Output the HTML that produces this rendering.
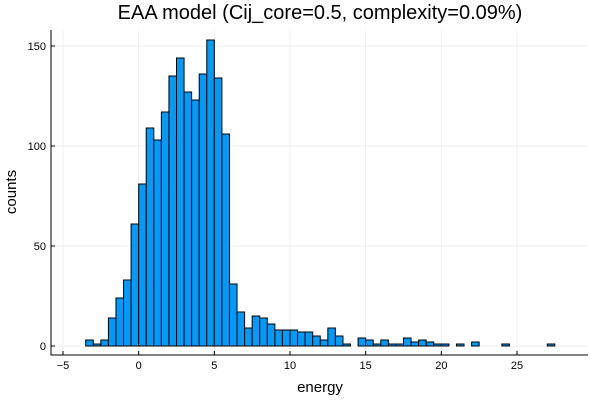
<!DOCTYPE html>
<html><head><meta charset="utf-8"><style>
body{margin:0;background:#fff;}
svg text{font-family:"Liberation Sans","DejaVu Sans",sans-serif;}
</style></head><body>
<svg id="chart" width="600" height="400">
<text x="320" y="19" font-size="20" text-anchor="middle" fill="#000">EAA model (Cij_core=0.5, complexity=0.09%)</text>
<text x="320" y="392" font-size="15" text-anchor="middle">energy</text>
<text transform="translate(16,192) rotate(-90)" font-size="15" text-anchor="middle">counts</text>
<g id="grid"></g><g id="bars"></g><g id="axes"></g>
</svg>
<script>
const binStarts=[-3.5,-3,-2.5,-2,-1.5,-1,-0.5,0,0.5,1,1.5,2,2.5,3,3.5,4,4.5,5,5.5,6,6.5,7,7.5,8,8.5,9,9.5,10,10.5,11,11.5,12,12.5,13,13.5,14,14.5,15,15.5,16,16.5,17,17.5,18,18.5,19,19.5,20,20.5,21,21.5,22,22.5,23,23.5,24,24.5,25,25.5,26,26.5,27];
const counts=[3,1,3,14,24,33,61,81,109,103,117,135,144,127,123,136,153,134,106,31,17,9,15,14,11,8,8,8,7,7,5,3,9,5,1,0,4,3,1,3,1,1,4,2,3,2,1,1,0,1,0,2,0,0,0,1,0,0,0,0,0,1];
const xTicks=[-5,0,5,10,15,20,25];
const yTicks=[0,50,100,150];
const binWidth=0.5;
const NS="http://www.w3.org/2000/svg";
const L=51,R=588,T=30,B=355;
const sx=v=>63+(v+5)*(517-63)/30;
const sy=v=>346-v*2;
function mk(tag,attrs,parent){const e=document.createElementNS(NS,tag);for(const k in attrs)e.setAttribute(k,attrs[k]);document.getElementById(parent).appendChild(e);return e;}
xTicks.forEach(t=>{
 const g=mk('line',{x1:sx(t),x2:sx(t),y1:T,y2:B,stroke:'#000','stroke-opacity':0.1,'stroke-width':0.5},'grid');
 
 
 const tk=mk('line',{x1:sx(t),x2:sx(t),y1:B,y2:B-4,stroke:'#000'},'axes');
 
 
 const tx=mk('text',{x:sx(t),y:B+14,'font-size':11,'text-anchor':'middle'},'axes');
 tx.textContent=String(t).replace('-','\u2212');
 
 
});
yTicks.forEach(t=>{
 const g=mk('line',{x1:L,x2:R,y1:sy(t),y2:sy(t),stroke:'#000','stroke-opacity':0.1,'stroke-width':0.5},'grid');
 
 
 const tk=mk('line',{x1:L,x2:L+4,y1:sy(t),y2:sy(t),stroke:'#000'},'axes');
 
 
 const tx=mk('text',{x:L-5,y:sy(t)+4,'font-size':11,'text-anchor':'end'},'axes');
 tx.textContent=t;
 
 
});
const ax=mk('path',{d:`M${L},${T}V${B}H${R}`,fill:'none',stroke:'#000','stroke-width':1},'axes');


binStarts.forEach((b,i)=>{
 const c=counts[i];
 const x0=sx(b),x1=sx(b+binWidth);
 const r=mk('rect',{x:x0,y:sy(c),width:x1-x0,height:sy(0)-sy(c),fill:'#009af9',stroke:'#000','stroke-width':1},'bars');
 
 
});
</script>
</body></html>
